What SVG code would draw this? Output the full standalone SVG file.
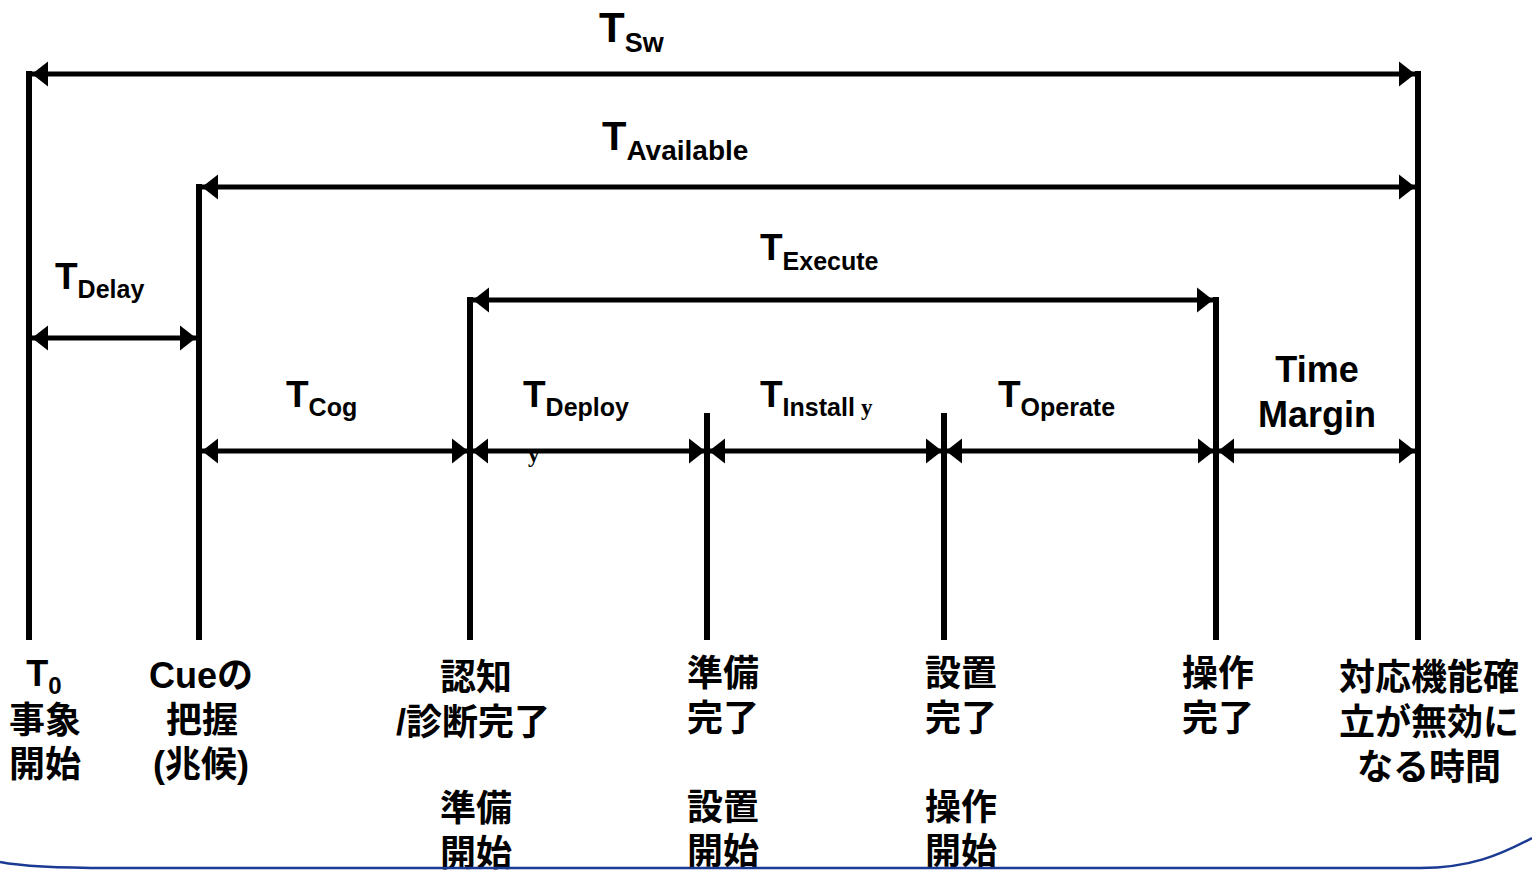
<svg xmlns="http://www.w3.org/2000/svg" width="1532" height="871" viewBox="0 0 1532 871">
<style>
.v{stroke:#000;stroke-width:6;fill:none}
.h{stroke:#000;stroke-width:5;fill:none;marker-start:url(#ah);marker-end:url(#ah)}
.t{font-family:"Liberation Sans",Arial,sans-serif;font-weight:bold;fill:#000}
.j{font-family:"Liberation Sans","Noto Sans CJK JP",sans-serif;font-weight:bold;font-size:36px;fill:#000;text-anchor:middle}
.s{font-family:"Liberation Serif",serif;font-weight:bold;font-size:23px;fill:#000}
</style>
<defs>
<marker id="ah" markerUnits="userSpaceOnUse" viewBox="0 -13 16 26" refX="16" refY="0" markerWidth="16" markerHeight="26" orient="auto-start-reverse">
<path d="M16,0 L0,-12.5 L0,12.5 Z" fill="#000"/>
</marker>
</defs>
<g id="connectors">
<line class="v" x1="29" y1="71" x2="29" y2="640"/>
<line class="v" x1="199" y1="184" x2="199" y2="640"/>
<line class="v" x1="470" y1="297" x2="470" y2="640"/>
<line class="v" x1="707" y1="413" x2="707" y2="640"/>
<line class="v" x1="944" y1="413" x2="944" y2="640"/>
<line class="v" x1="1216" y1="297" x2="1216" y2="640"/>
<line class="v" x1="1418" y1="71" x2="1418" y2="640"/>
<line class="h" x1="32" y1="74" x2="1415" y2="74"/>
<line class="h" x1="202" y1="187" x2="1415" y2="187"/>
<line class="h" x1="473" y1="300" x2="1213" y2="300"/>
<line class="h" x1="32" y1="338" x2="196" y2="338"/>
<line class="h" x1="202" y1="451" x2="468" y2="451"/>
<line class="h" x1="472" y1="451" x2="705" y2="451"/>
<line class="h" x1="709" y1="451" x2="942" y2="451"/>
<line class="h" x1="946" y1="451" x2="1214" y2="451"/>
<line class="h" x1="1218" y1="451" x2="1415" y2="451"/>
</g>
<g id="labels">
<text class="t" x="599" y="42" font-size="42">T<tspan font-size="27" dy="10">Sw</tspan></text>
<text class="t" x="602" y="150" font-size="40">T<tspan font-size="28" dy="10">Available</tspan></text>
<text class="t" x="760" y="260" font-size="37">T<tspan font-size="25" dy="10">Execute</tspan></text>
<text class="t" x="55" y="289" font-size="37">T<tspan font-size="25" dy="9">Delay</tspan></text>
<text class="t" x="286" y="407" font-size="37">T<tspan font-size="25" dy="9">Cog</tspan></text>
<text class="t" x="523" y="407" font-size="37">T<tspan font-size="25" dy="9">Deploy</tspan></text>
<text class="s" x="528" y="462">y</text>
<text class="t" x="760" y="407" font-size="37">T<tspan font-size="25" dy="9">Install</tspan></text>
<text class="s" x="861" y="415">y</text>
<text class="t" x="998" y="407" font-size="37">T<tspan font-size="25" dy="9">Operate</tspan></text>
<text class="t" x="1317" y="382" font-size="36" text-anchor="middle">Time</text>
<text class="t" x="1317" y="427" font-size="36" text-anchor="middle">Margin</text>
</g>
<g id="node-t0">
<text class="j" x="44" y="686">T<tspan font-size="24" dy="8">0</tspan></text>
<text class="j" x="45" y="733">事象</text>
<text class="j" x="45" y="777">開始</text>
</g>
<g id="node-cue">
<text class="j" x="201" y="688">Cueの</text>
<text class="j" x="202" y="733">把握</text>
<text class="j" x="201" y="777">(兆候)</text>
</g>
<g id="node-cog">
<text class="j" x="476" y="690">認知</text>
<text class="j" x="473" y="735">/診断完了</text>
<text class="j" x="476" y="821">準備</text>
<text class="j" x="476" y="866">開始</text>
</g>
<g id="node-deploy">
<text class="j" x="723" y="686">準備</text>
<text class="j" x="723" y="731">完了</text>
<text class="j" x="723" y="820">設置</text>
<text class="j" x="723" y="864">開始</text>
</g>
<g id="node-install">
<text class="j" x="961" y="686">設置</text>
<text class="j" x="961" y="731">完了</text>
<text class="j" x="961" y="820">操作</text>
<text class="j" x="961" y="864">開始</text>
</g>
<g id="node-operate">
<text class="j" x="1218" y="686">操作</text>
<text class="j" x="1218" y="731">完了</text>
</g>
<g id="node-limit">
<text class="j" x="1429" y="690">対応機能確</text>
<text class="j" x="1429" y="735">立が無効に</text>
<text class="j" x="1429" y="780">なる時間</text>
</g>
<path d="M0,862 C20,866 60,868 110,868 L1420,868 C1470,868 1500,855 1532,838" fill="none" stroke="#1a3a94" stroke-width="2.5"/>
</svg>
